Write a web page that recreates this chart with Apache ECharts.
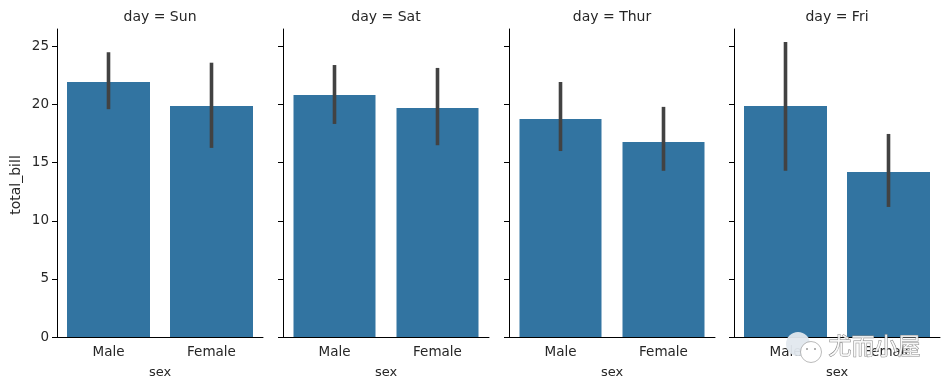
<!DOCTYPE html>
<html>
<head>
<meta charset="utf-8">
<style>
  html, body { margin: 0; padding: 0; background: #fff; }
  #chart { width: 950px; height: 390px; }
</style>
<script src="https://cdn.jsdelivr.net/npm/echarts@6/dist/echarts.min.js"></script>
</head>
<body>
<div id="chart"></div>
<script>
var days = ['Sun', 'Sat', 'Thur', 'Fri'];
var sexes = ['Male', 'Female'];
var yTicks = [0, 5, 10, 15, 20, 25];

// mean total_bill per day: [Male, Female]
var meanSun = [21.94, 19.88];
var meanSat = [20.83, 19.7];
var meanThur = [18.76, 16.78];
var meanFri = [19.88, 14.2];

// confidence interval per day: [low, high] for Male, then Female
var ciSun = [[19.6, 24.5], [16.27, 23.6]];
var ciSat = [[18.33, 23.4], [16.5, 23.15]];
var ciThur = [[16.0, 21.94], [14.3, 19.8]];
var ciFri = [[14.3, 25.39], [11.19, 17.47]];

var means = [meanSun, meanSat, meanThur, meanFri];
var cis = [ciSun, ciSat, ciThur, ciFri];
var panelLefts = [57, 283, 509, 734];
var barWidths = [83, 82, 82, 83];

var textColor = '#262626';
var fontFamily = '"DejaVu Sans", sans-serif';

var myChart = echarts.init(document.getElementById('chart'), null, { renderer: 'canvas' });

var grids = [], xAxes = [], yAxes = [], series = [], titles = [];

days.forEach(function (day, i) {
    grids.push({ left: panelLefts[i], top: 29, width: 206, height: 308 });
    titles.push({
        text: 'day = ' + day,
        left: panelLefts[i] + 103,
        top: 10,
        padding: 0,
        textAlign: 'center',
        textStyle: { color: textColor, fontSize: 14, fontWeight: 'normal', fontFamily: fontFamily }
    });
    xAxes.push({
        type: 'category',
        gridIndex: i,
        data: sexes,
        name: 'sex',
        nameLocation: 'middle',
        nameGap: 29,
        nameTextStyle: { color: textColor, fontSize: 13, fontFamily: fontFamily },
        axisLine: { lineStyle: { color: '#000', width: 1 } },
        axisTick: { alignWithLabel: true, length: 4, lineStyle: { color: '#000' } },
        axisLabel: { color: textColor, fontSize: 13.5, margin: 8, fontFamily: fontFamily, interval: 0 },
        splitLine: { show: false }
    });
    yAxes.push({
        type: 'value',
        gridIndex: i,
        min: 0,
        max: 26.5,
        name: i === 0 ? 'total_bill' : '',
        nameLocation: 'middle',
        nameGap: 34,
        nameTextStyle: { color: textColor, fontSize: 14, fontFamily: fontFamily, padding: [0, 4, 0, 0] },
        axisLine: { show: true, onZero: false, lineStyle: { color: '#000', width: 1 } },
        axisTick: { show: true, length: 5, customValues: yTicks, lineStyle: { color: '#000' } },
        axisLabel: {
            show: i === 0,
            customValues: yTicks,
            color: textColor,
            fontSize: 13.5,
            margin: 8,
            fontFamily: fontFamily
        },
        splitLine: { show: false }
    });
    series.push({
        type: 'bar',
        xAxisIndex: i,
        yAxisIndex: i,
        data: means[i],
        barWidth: barWidths[i],
        itemStyle: { color: '#3274a1' },
        silent: true
    });
    series.push({
        type: 'custom',
        xAxisIndex: i,
        yAxisIndex: i,
        z: 5,
        silent: true,
        data: cis[i].map(function (ci, k) { return [k, ci[0], ci[1]]; }),
        encode: { x: 0, y: [1, 2] },
        renderItem: function (params, api) {
            var low = api.coord([api.value(0), api.value(1)]);
            var high = api.coord([api.value(0), api.value(2)]);
            return {
                type: 'line',
                shape: { x1: low[0], y1: low[1], x2: high[0], y2: high[1] },
                style: { stroke: '#424242', lineWidth: 3.6 }
            };
        }
    });
});

var option = {
    animation: false,
    backgroundColor: '#fff',
    title: titles,
    grid: grids,
    xAxis: xAxes,
    yAxis: yAxes,
    series: series,
    // watermark that sits on top of the last panel
    graphic: [
        {
            type: 'text',
            left: 828,
            top: 333,
            z: 100,
            style: {
                text: '尤而小屋',
                fontSize: 23,
                fontFamily: '"Noto Sans CJK SC", sans-serif',
                fill: 'rgba(255,255,255,0.85)',
                stroke: '#8a8a8a',
                lineWidth: 1
            }
        },
        {
            type: 'circle',
            z: 100,
            shape: { cx: 798, cy: 344, r: 12 },
            style: { fill: 'rgba(225,232,238,0.95)' }
        },
        {
            type: 'circle',
            z: 101,
            shape: { cx: 811, cy: 352, r: 10.5 },
            style: { fill: '#fff', stroke: '#777', lineWidth: 0.5 }
        },
        {
            type: 'circle',
            z: 102,
            shape: { cx: 807, cy: 349, r: 1 },
            style: { fill: '#999' }
        },
        {
            type: 'circle',
            z: 102,
            shape: { cx: 815, cy: 349, r: 1 },
            style: { fill: '#999' }
        }
    ]
};

myChart.setOption(option);
window.addEventListener('resize', function () {
    myChart.resize();
});
</script>
</body>
</html>
